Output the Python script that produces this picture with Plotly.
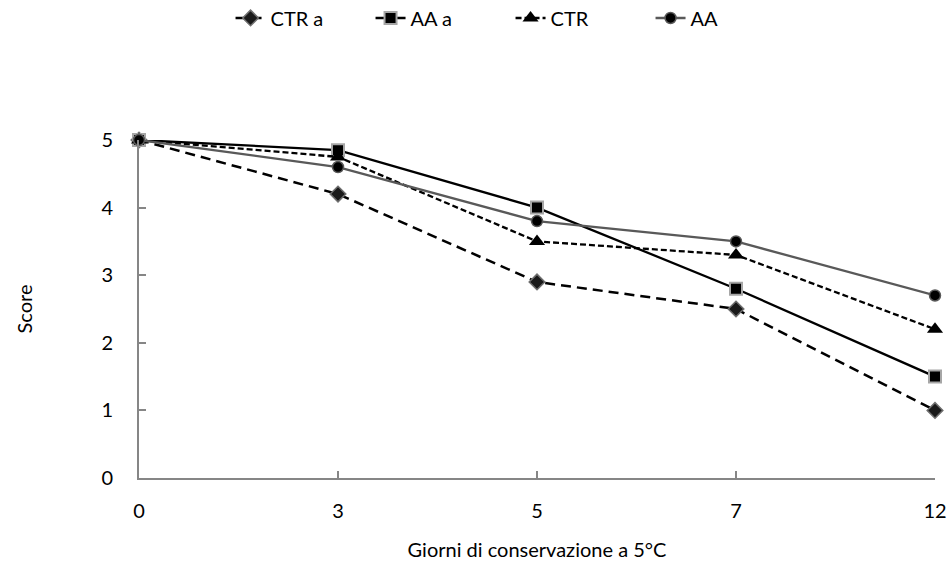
import plotly.graph_objects as go

# Storage days (categorical axis) and sensory scores per treatment
giorni = ["0", "3", "5", "7", "12"]
ctr_a = [5.0, 4.2, 2.9, 2.5, 1.0]
aa_a = [5.0, 4.85, 4.0, 2.8, 1.5]
ctr = [5.0, 4.75, 3.5, 3.3, 2.2]
aa = [5.0, 4.6, 3.8, 3.5, 2.7]

FONT = "Lato"
AXIS_GREY = "#868686"
pos = list(range(len(giorni)))

fig = go.Figure()
fig.add_trace(go.Scatter(
    x=pos, y=ctr_a, name="CTR a", mode="lines+markers", cliponaxis=False,
    line=dict(color="black", width=2.5, dash="10px,6px"),
    marker=dict(symbol="diamond", size=12, color="#1a1a1a",
                line=dict(color="#6e6e6e", width=1.5)),
))
fig.add_trace(go.Scatter(
    x=pos, y=aa_a, name="AA a", mode="lines+markers", cliponaxis=False,
    line=dict(color="black", width=2.3),
    marker=dict(symbol="square", size=12, color="black",
                line=dict(color="#a6a6a6", width=2)),
))
fig.add_trace(go.Scatter(
    x=pos, y=ctr, name="CTR", mode="lines+markers", cliponaxis=False,
    line=dict(color="black", width=2.3, dash="6px,3px"),
    marker=dict(symbol="triangle-up", size=14, color="black",
                line=dict(color="black", width=0)),
))
fig.add_trace(go.Scatter(
    x=pos, y=aa, name="AA", mode="lines+markers", cliponaxis=False,
    line=dict(color="#595959", width=2.3),
    marker=dict(symbol="circle", size=11, color="black",
                line=dict(color="#595959", width=1.5)),
))

fig.update_layout(
    width=949, height=568,
    margin=dict(l=139, r=14, t=140, b=90, autoexpand=False),
    paper_bgcolor="white", plot_bgcolor="white",
    font=dict(family=FONT, size=20, color="black"),
    showlegend=True,
    legend=dict(orientation="h", x=0.115, xanchor="left", y=1.361, yanchor="middle",
                font=dict(family=FONT, size=20), entrywidth=95,
                entrywidthmode="pixels", bgcolor="rgba(0,0,0,0)"),
    xaxis=dict(
        range=[0, len(giorni) - 1], tickvals=pos, ticktext=giorni,
        showgrid=False, zeroline=False,
        showline=True, linecolor=AXIS_GREY, linewidth=2,
        ticks="inside", ticklen=7, tickcolor=AXIS_GREY, tickwidth=1.5,
        ticklabelstandoff=14,
        title=dict(text="Giorni di conservazione a 5°C", standoff=22,
                   font=dict(family=FONT, size=20)),
    ),
    yaxis=dict(
        range=[0, 5], dtick=1,
        showgrid=False, zeroline=False,
        showline=True, linecolor=AXIS_GREY, linewidth=2,
        ticks="inside", ticklen=7, tickcolor=AXIS_GREY, tickwidth=1.5,
        ticklabelstandoff=20,
        title=dict(text="Score", standoff=63, font=dict(family=FONT, size=20)),
    ),
)

fig.write_html("out.html")
